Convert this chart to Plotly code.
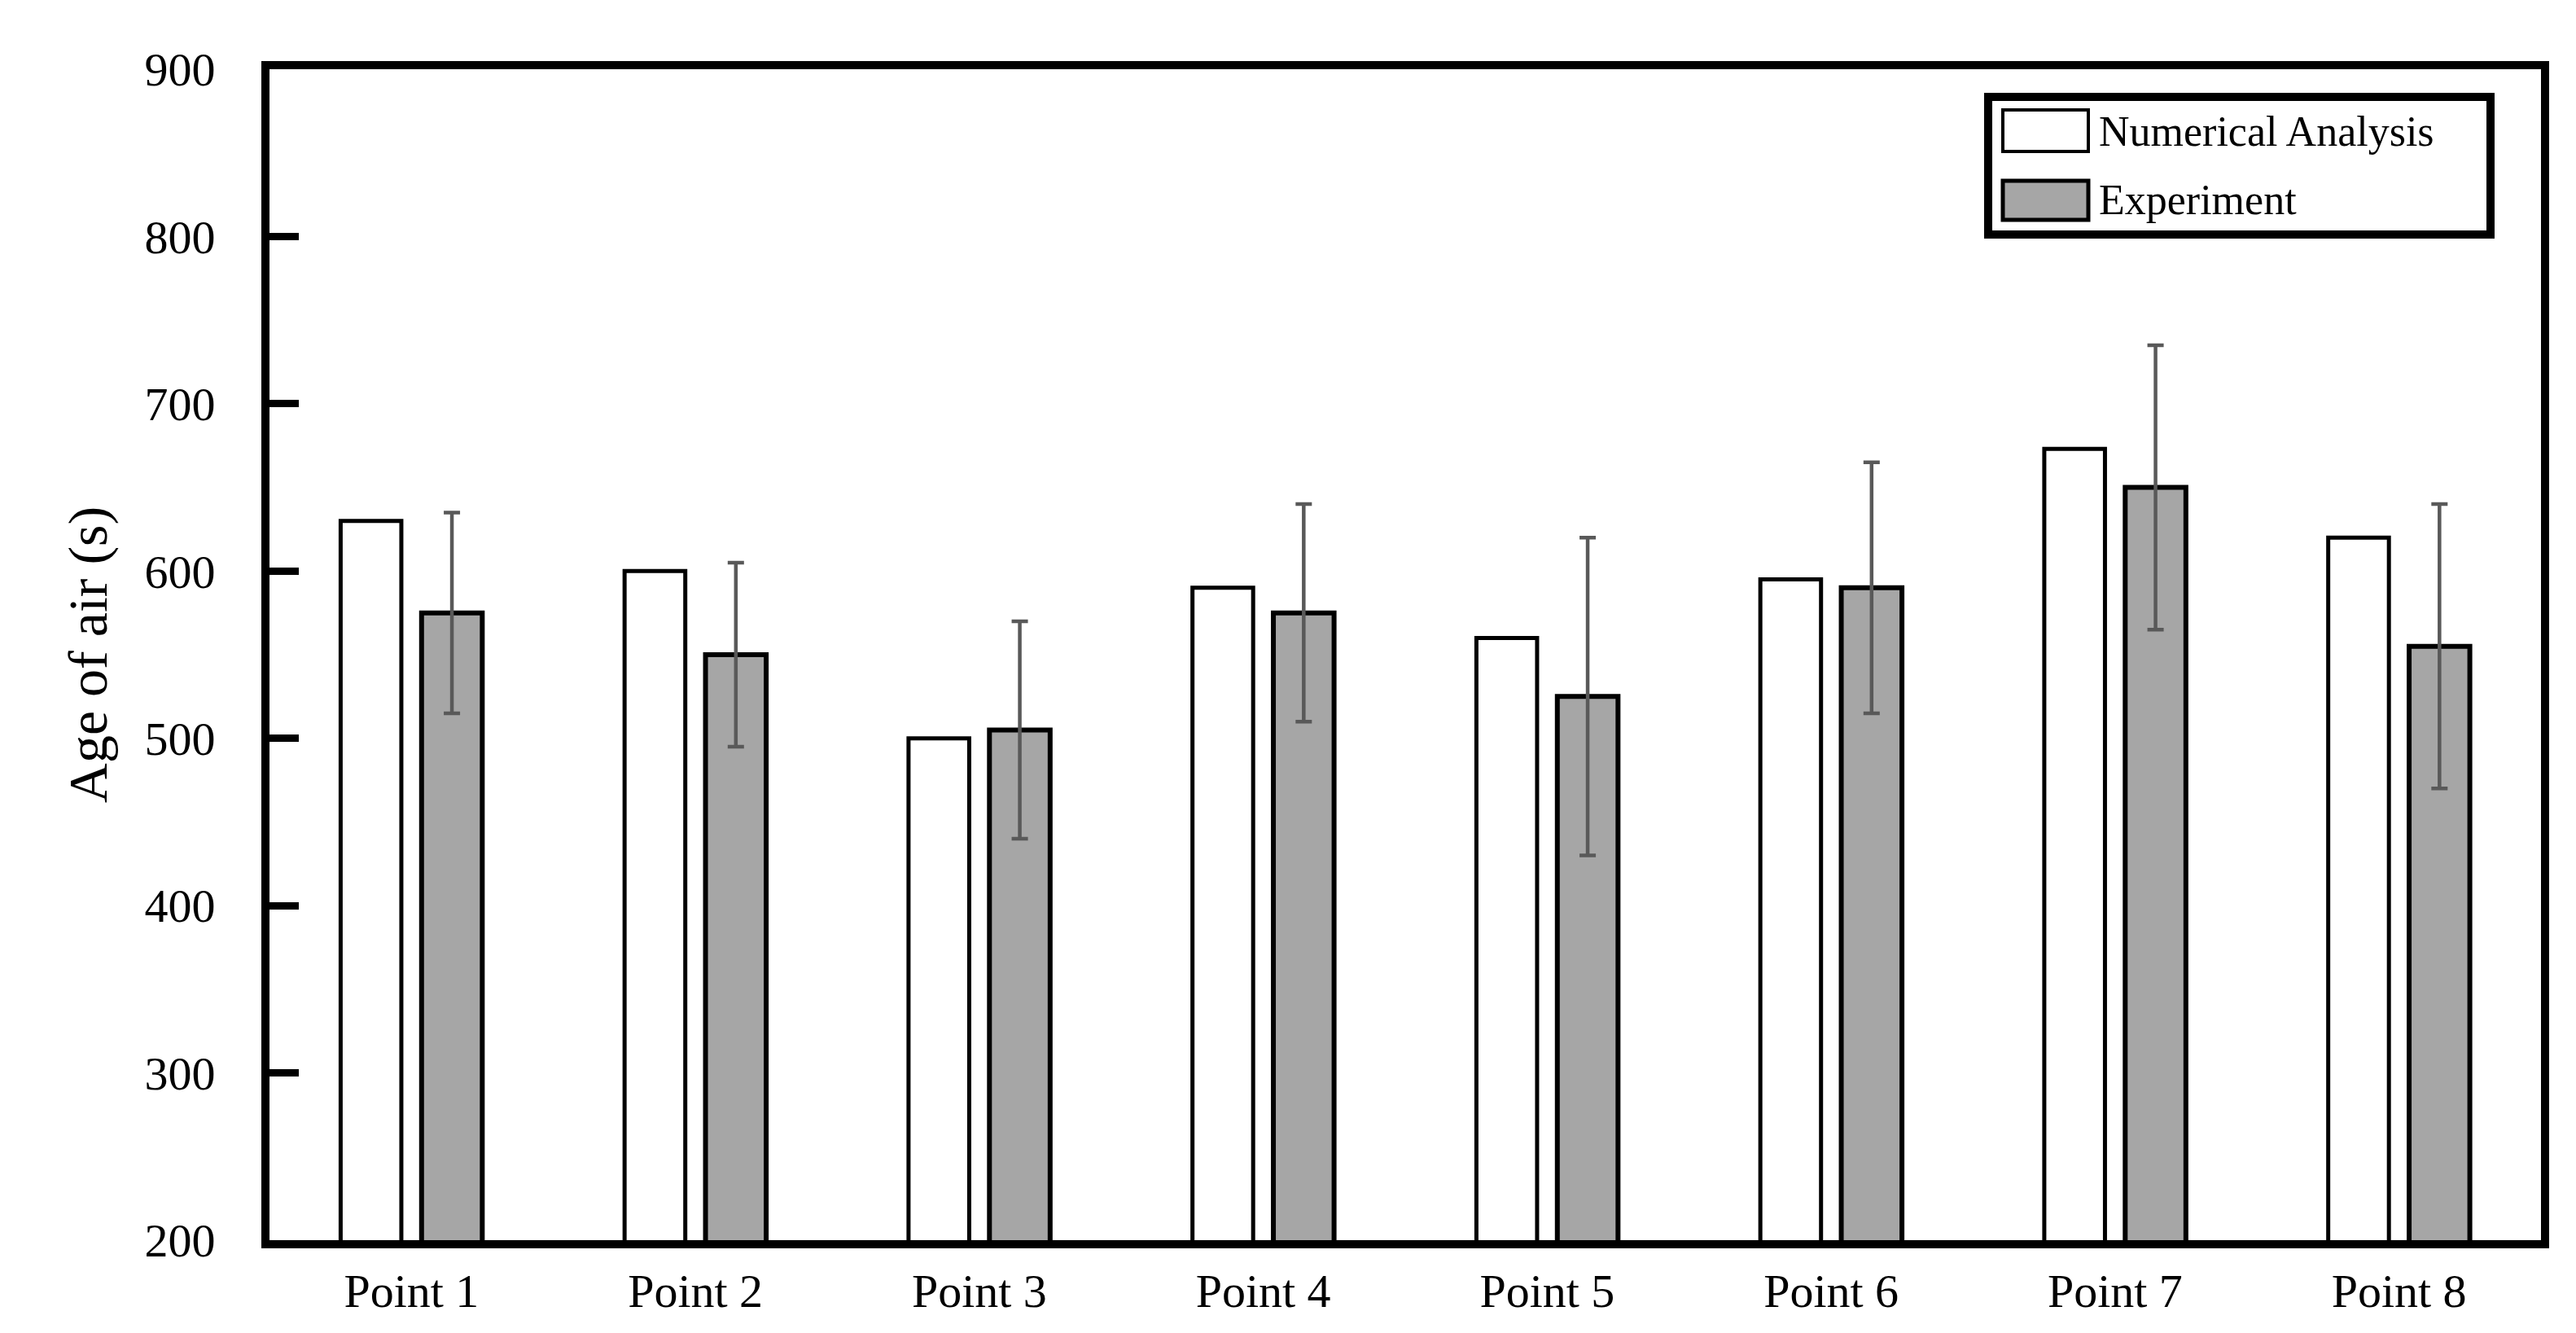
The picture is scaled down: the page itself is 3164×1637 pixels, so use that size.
import plotly.graph_objects as go

categories = ["Point 1", "Point 2", "Point 3", "Point 4", "Point 5", "Point 6", "Point 7", "Point 8"]
numerical = [630, 600, 500, 590, 560, 595, 673, 620]
experiment = [575, 550, 505, 575, 525, 590, 650, 555]
exp_error = [60, 55, 65, 65, 95, 75, 85, 85]
y_ticks = [200, 300, 400, 500, 600, 700, 800, 900]
series_names = ["Numerical Analysis", "Experiment"]

FONT = "Liberation Serif"
EXP_COLOR = "#a6a6a6"

fig = go.Figure()
fig.add_trace(go.Bar(
    x=categories, y=numerical, name=series_names[0],
    marker=dict(color="white", line=dict(color="black", width=5)),
    showlegend=False,
))
fig.add_trace(go.Bar(
    x=categories, y=experiment, name=series_names[1],
    marker=dict(color=EXP_COLOR, line=dict(color="black", width=6)),
    error_y=dict(type="data", array=exp_error, visible=True,
                 color="#595959", thickness=4.5, width=10),
    showlegend=False,
))

W, H = 3164, 1637
L, R, T, B = 323, 3113, 77, 1515

def dx(px):
    return (px - L) / (R - L)

def dy(py):
    return (B - py) / (B - T)

shapes = []
annotations = []
# custom legend box
shapes.append(dict(type="rect", xref="x domain", yref="y domain",
                   x0=dx(2434), x1=dx(3051), y0=dy(280), y1=dy(111),
                   line=dict(color="black", width=10), fillcolor="white", layer="above"))
sym = [(127, 178, "white", 4), (214, 262, EXP_COLOR, 5)]
text_y = [153, 238]
for (y0p, y1p, col, lw), name, ty in zip(sym, series_names, text_y):
    shapes.append(dict(type="rect", xref="x domain", yref="y domain",
                       x0=dx(2452), x1=dx(2557), y0=dy(y1p), y1=dy(y0p),
                       line=dict(color="black", width=lw), fillcolor=col, layer="above"))
    annotations.append(dict(xref="x domain", yref="y domain", x=dx(2568), y=dy(ty),
                            text=name, showarrow=False, xanchor="left", yanchor="middle",
                            font=dict(family=FONT, size=52, color="black")))

fig.update_layout(
    width=W, height=H,
    margin=dict(l=L, r=W - R, t=T, b=H - B, pad=0),
    paper_bgcolor="white", plot_bgcolor="white",
    barmode="group", bargap=0.43, bargroupgap=0.25,
    font=dict(family=FONT, color="black"),
    shapes=shapes, annotations=annotations,
    showlegend=False,
)
fig.update_xaxes(
    showline=True, linewidth=10, linecolor="black", mirror=True,
    ticks="", showgrid=False, zeroline=False,
    tickfont=dict(family=FONT, size=58, color="black"),
    ticklabelstandoff=2,
)
fig.update_yaxes(
    range=[200, 900], tickvals=y_ticks,
    showline=True, linewidth=10, linecolor="black", mirror=True,
    ticks="inside", ticklen=36, tickwidth=9, tickcolor="black",
    showgrid=False, zeroline=False,
    tickfont=dict(family=FONT, size=58, color="black"),
    ticklabelstandoff=45,
    title=dict(text="Age of air (s)", font=dict(family=FONT, size=68, color="black"), standoff=28),
)

fig.write_html("out.html")
